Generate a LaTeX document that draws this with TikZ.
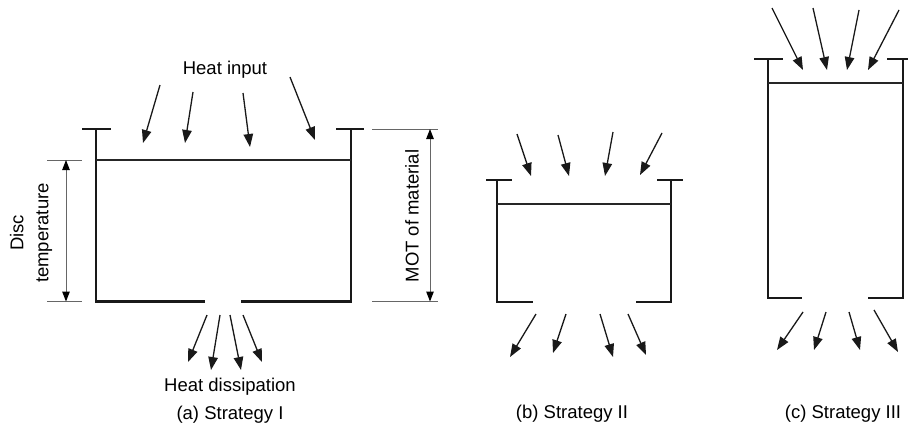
\documentclass[tikz,border=0pt]{standalone}
\usepackage{fontspec}
\setmainfont{Liberation Sans}
\usetikzlibrary{arrows.meta}

\tikzset{
  wall/.style={line width=2.4pt, black!90, line cap=rect},
  level/.style={line width=1.2pt, black!85},
  flow/.style={line width=1.3pt, black!90, -{Triangle[length=13pt,width=9.5pt]}},
  extline/.style={line width=1pt, black!60},
  dimline/.style={line width=1pt, black!60, {Triangle[length=10pt,width=7.5pt,color=black]}-{Triangle[length=10pt,width=7.5pt,color=black]}},
  lbl/.style={font=\fontsize{18.5}{25}\selectfont, inner sep=0pt}
}

\begin{document}
\begin{tikzpicture}[x=1pt,y=-1pt]
\useasboundingbox (0,0) rectangle (909,426);

% ---------- (a) Strategy I ----------
\draw[wall] (83,129) -- (110,129);
\draw[wall] (337,129) -- (363,129);
\draw[wall] (96,129) -- (96,301.5) -- (204,301.5);
\draw[wall] (242,301.5) -- (351,301.5) -- (351,129);
\draw[level] (96,160) -- (351,160);

% dimension: disc temperature
\coordinate (dtT) at (66,160);
\coordinate (dtB) at (66,301.5);
\draw[extline] (47,160) -- (82,160);
\draw[extline] (47,301.5) -- (82,301.5);
\draw[dimline] (dtT) -- (dtB);
\node[lbl, rotate=90, align=center] (disctemp) at (31,233) {Disc\\temperature};

% dimension: MOT of material
\coordinate (motT) at (430,129);
\coordinate (motB) at (430,301.5);
\draw[extline] (372,129) -- (438,129);
\draw[extline] (372,301.5) -- (438,301.5);
\draw[dimline] (motT) -- (motB);
\node[lbl, rotate=90] (mot) at (412,216) {MOT of material};

% heat input
\node[lbl] (heatin) at (225,70) {Heat input};
\coordinate (ai1s) at (160,85);  \coordinate (ai1e) at (143,143);
\coordinate (ai2s) at (193,92);  \coordinate (ai2e) at (185,143);
\coordinate (ai3s) at (243,93);  \coordinate (ai3e) at (250,147);
\coordinate (ai4s) at (290,77);  \coordinate (ai4e) at (315,140);
\foreach \i in {1,...,4} \draw[flow] (ai\i s) -- (ai\i e);

% heat dissipation
\coordinate (ao1s) at (207,315); \coordinate (ao1e) at (188,362);
\coordinate (ao2s) at (220,315); \coordinate (ao2e) at (211,370);
\coordinate (ao3s) at (230,315); \coordinate (ao3e) at (241,370);
\coordinate (ao4s) at (243,315); \coordinate (ao4e) at (262,362);
\foreach \i in {1,...,4} \draw[flow] (ao\i s) -- (ao\i e);
\node[lbl] (heatout) at (230,387) {Heat dissipation};
\node[lbl] (capa) at (230,415) {(a) Strategy I};

% ---------- (b) Strategy II ----------
\draw[wall] (487,180) -- (511,180);
\draw[wall] (658,180) -- (682,180);
\draw[wall] (497,180) -- (497,302) -- (532,302);
\draw[wall] (637,302) -- (671,302) -- (671,180);
\draw[level] (497,204) -- (671,204);

\coordinate (bi1s) at (517,134); \coordinate (bi1e) at (531,176);
\coordinate (bi2s) at (558,135); \coordinate (bi2e) at (569,176);
\coordinate (bi3s) at (613,132); \coordinate (bi3e) at (605,176);
\coordinate (bi4s) at (662,133); \coordinate (bi4e) at (640,175);
\foreach \i in {1,...,4} \draw[flow] (bi\i s) -- (bi\i e);

\coordinate (bo1s) at (536,314); \coordinate (bo1e) at (510,357);
\coordinate (bo2s) at (566,314); \coordinate (bo2e) at (553,353);
\coordinate (bo3s) at (600,314); \coordinate (bo3e) at (613,357);
\coordinate (bo4s) at (628,314); \coordinate (bo4e) at (646,355);
\foreach \i in {1,...,4} \draw[flow] (bo\i s) -- (bo\i e);
\node[lbl] (capb) at (572,414) {(b) Strategy II};

% ---------- (c) Strategy III ----------
\draw[wall] (755,59) -- (782,59);
\draw[wall] (888,59) -- (907,59);
\draw[wall] (768,59) -- (768,298) -- (801,298);
\draw[wall] (869,298) -- (903,298) -- (903,59);
\draw[level] (768,83) -- (903,83);

\coordinate (ci1s) at (772,8);  \coordinate (ci1e) at (803,70);
\coordinate (ci2s) at (813,8);  \coordinate (ci2e) at (827,70);
\coordinate (ci3s) at (859,10); \coordinate (ci3e) at (847,70);
\coordinate (ci4s) at (899,10); \coordinate (ci4e) at (868,70);
\foreach \i in {1,...,4} \draw[flow] (ci\i s) -- (ci\i e);

\coordinate (co1s) at (803,312); \coordinate (co1e) at (777,350);
\coordinate (co2s) at (826,312); \coordinate (co2e) at (814,350);
\coordinate (co3s) at (849,312); \coordinate (co3e) at (860,350);
\coordinate (co4s) at (874,310); \coordinate (co4e) at (898,352);
\foreach \i in {1,...,4} \draw[flow] (co\i s) -- (co\i e);
\node[lbl] (capc) at (843,414) {(c) Strategy III};
\end{tikzpicture}
\end{document}
